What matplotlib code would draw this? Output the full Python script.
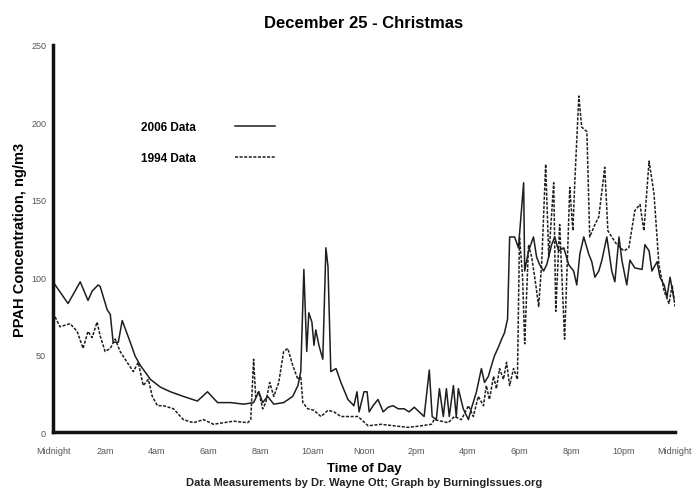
import matplotlib
matplotlib.use("Agg")
import matplotlib.pyplot as plt

# PPAH readings, time in hours after midnight
hours_2006 = [0.00, 0.58, 1.05, 1.35, 1.51, 1.74, 1.82, 2.09, 2.21, 2.32, 2.52, 2.67,
              2.98, 3.17, 3.37, 3.76, 4.14, 4.53, 5.03, 5.57, 5.96, 6.35, 6.85, 7.36,
              7.74, 7.94, 8.09, 8.28, 8.52, 8.90, 9.25, 9.45, 9.56, 9.68, 9.79, 9.87,
              9.99, 10.07, 10.14, 10.26, 10.41, 10.53, 10.61, 10.72, 10.92, 11.11, 11.38,
              11.61, 11.73, 11.81, 12.00, 12.12, 12.20, 12.35, 12.54, 12.74, 12.93, 13.12,
              13.32, 13.55, 13.74, 13.94, 14.13, 14.32, 14.52, 14.63, 14.79, 14.91, 15.06,
              15.18, 15.29, 15.45, 15.56, 15.64, 15.83, 16.03, 16.14, 16.34, 16.53, 16.65,
              16.80, 16.92, 17.03, 17.19, 17.31, 17.42, 17.54, 17.58, 17.62, 17.81, 17.96,
              18.16, 18.20, 18.35, 18.54, 18.66, 18.78, 18.93, 19.05, 19.24, 19.36, 19.51,
              19.71, 19.90, 20.09, 20.21, 20.33, 20.48, 20.67, 20.79, 20.91, 21.06, 21.18,
              21.37, 21.56, 21.68, 21.84, 21.95, 22.14, 22.26, 22.45, 22.73, 22.84, 23.00,
              23.11, 23.31, 23.42, 23.58, 23.69, 23.81, 23.96]
ppah_2006 = [97, 83, 97, 85, 91, 95, 94, 79, 76, 58, 58, 72,
             58, 49, 43, 34, 29, 26, 23, 20, 26, 19, 19, 18,
             19, 26, 19, 23, 18, 19, 23, 30, 39, 105, 52, 77,
             71, 56, 66, 56, 47, 119, 107, 39, 41, 32, 21,
             17, 26, 13, 26, 26, 13, 17, 21, 13, 16, 17,
             15, 15, 13, 16, 13, 10, 40, 10, 8, 28, 10,
             28, 10, 30, 10, 28, 15, 8, 15, 26, 41, 32,
             36, 43, 49, 55, 60, 64, 73, 100, 126, 126, 119,
             161, 104, 117, 126, 113, 108, 104, 108, 121, 126, 117,
             119, 108, 104, 95, 115, 126, 115, 110, 100, 104, 111,
             126, 104, 97, 126, 111, 95, 111, 106, 105, 121, 117,
             104, 110, 100, 95, 87, 100, 86]

hours_1994 = [0.00, 0.27, 0.66, 0.93, 1.16, 1.35, 1.51, 1.70, 1.82, 2.01, 2.21, 2.40,
              2.59, 2.86, 3.10, 3.29, 3.48, 3.68, 3.83, 4.03, 4.26, 4.65, 5.03, 5.42,
              5.81, 6.19, 6.58, 6.97, 7.51, 7.63, 7.74, 7.82, 7.94, 8.09, 8.21, 8.36,
              8.52, 8.71, 8.90, 9.06, 9.25, 9.45, 9.56, 9.64, 9.83, 10.07, 10.34, 10.61,
              10.84, 11.11, 11.50, 11.77, 12.16, 12.66, 13.16, 13.70, 14.21, 14.60, 14.71,
              15.25, 15.49, 15.76, 16.03, 16.22, 16.41, 16.61, 16.72, 16.84, 17.00, 17.11,
              17.23, 17.38, 17.50, 17.62, 17.77, 17.92, 18.00, 18.12, 18.20, 18.35, 18.47,
              18.63, 18.74, 18.86, 19.01, 19.13, 19.32, 19.40, 19.55, 19.74, 19.86, 19.94,
              20.06, 20.13, 20.29, 20.40, 20.60, 20.71, 20.91, 21.06, 21.29, 21.41, 21.56,
              21.76, 22.03, 22.22, 22.45, 22.65, 22.80, 23.00, 23.19, 23.38, 23.58, 23.77,
              23.89, 24.00]
ppah_1994 = [77, 68, 70, 65, 54, 65, 61, 71, 62, 52, 54, 60,
             52, 45, 39, 45, 30, 34, 23, 17, 17, 15, 8, 6,
             8, 5, 6, 7, 6, 8, 47, 23, 26, 15, 19, 32,
             23, 32, 52, 54, 43, 34, 36, 19, 15, 14, 10, 14,
             13, 10, 10, 10, 4, 5, 4, 3, 4, 5, 8,
             6, 10, 8, 17, 10, 23, 17, 30, 21, 36, 28,
             41, 34, 45, 30, 41, 34, 126, 100, 57, 121, 113,
             95, 81, 110, 173, 113, 161, 78, 134, 60, 117, 158,
             130, 160, 217, 197, 194, 126, 134, 139, 171, 130, 126,
             121, 117, 119, 143, 147, 130, 175, 154, 108, 91, 83,
             95, 81]

tick_hours = [0, 2, 4, 6, 8, 10, 12, 14, 16, 18, 20, 22, 24]
tick_names = ["Midnight", "2am", "4am", "6am", "8am", "10am", "Noon",
              "2pm", "4pm", "6pm", "8pm", "10pm", "Midnight"]

plt.rcParams['font.family'] = ['Liberation Sans', 'DejaVu Sans']

fig = plt.figure(figsize=(6.93, 4.89), dpi=100)
ax = fig.add_axes([0.0765, 0.1145, 0.8975, 0.7915])

ax.plot(hours_2006, ppah_2006, color='#1e1e1e', lw=1.1, label='2006 Data')
ax.plot(hours_1994, ppah_1994, color='#1e1e1e', lw=1.1, linestyle=(0, (2, 1)),
        label='1994 Data')

ax.set_xlim(0, 24)
ax.set_ylim(0, 250)
ax.set_xticks(tick_hours)
ax.set_xticklabels(tick_names)
ax.set_yticks([0, 50, 100, 150, 200, 250])
ax.tick_params(length=0, labelsize=6.5, labelcolor='#555555')
ax.tick_params(axis='x', pad=10)
ax.tick_params(axis='y', pad=5)

for s in ['top', 'right']:
    ax.spines[s].set_visible(False)
for s in ['left', 'bottom']:
    ax.spines[s].set_linewidth(2.5)
    ax.spines[s].set_color('#111111')

ax.set_title('December 25 - Christmas', fontsize=12, fontweight='bold', pad=13)
ax.set_ylabel('PPAH Concentration, ng/m3', fontsize=10.5, fontweight='bold', labelpad=3)
ax.set_xlabel('Time of Day', fontsize=9.5, fontweight='bold', labelpad=5)
fig.text(0.525, 0.006, 'Data Measurements by Dr. Wayne Ott; Graph by BurningIssues.org',
         ha='center', fontsize=8, fontweight='bold', color='#222222')

leg = ax.legend(loc='upper left', bbox_to_anchor=(0.125, 0.83), frameon=False,
                markerfirst=False, handlelength=3.4, handletextpad=3.3,
                labelspacing=1.55, prop={'size': 8.5, 'weight': 'bold'})

plt.savefig('out.png', dpi=100)
